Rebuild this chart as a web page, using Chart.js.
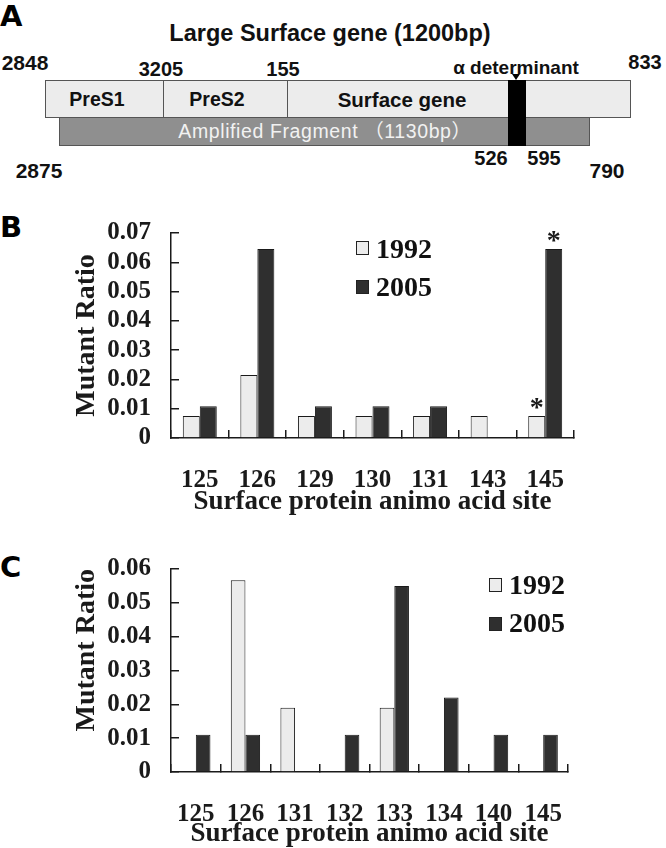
<!DOCTYPE html>
<html lang="en">
<head>
<meta charset="UTF-8">
<title>Surface gene mutant ratio</title>
<script src="https://cdn.jsdelivr.net/npm/chart.js"></script>
<style>
    body { margin: 0; background: #fff; }
    #fig { position: relative; width: 666px; height: 848px; overflow: hidden; }
    .t { position: absolute; transform: translate(-50%, -50%); white-space: nowrap; line-height: 1;
         font-family: "Liberation Sans", Arial, sans-serif; font-weight: bold; color: #111; }
    .tl { position: absolute; transform: translate(0, -50%); white-space: nowrap; line-height: 1; }
    .box { position: absolute; box-sizing: border-box; }
    .panel { position: absolute; left: 0; font-family: "DejaVu Sans", sans-serif; font-weight: bold; font-size: 29px; line-height: 1; color: #000; }
    .leg { font-family: "Liberation Serif", "Times New Roman", serif; font-weight: bold; font-size: 28px; color: #111; }
    .sw { position: absolute; width: 13px; height: 14px; box-sizing: border-box; border: 1px solid #222; }
    canvas { position: absolute; left: 0; }
</style>
</head>
<body>
<div id="fig">
    <!-- panel A: gene map -->
    <div class="panel" style="top:2px">A</div>
    <div class="t" style="left:330px;top:34px;font-size:23.5px">Large Surface gene (1200bp)</div>
    <div class="t" style="left:25px;top:62px;font-size:21px">2848</div>
    <div class="t" style="left:161px;top:69px;font-size:20px">3205</div>
    <div class="t" style="left:283px;top:69px;font-size:20px">155</div>
    <div class="t" style="left:516px;top:67px;font-size:19px">α determinant</div>
    <div class="t" style="left:645px;top:62px;font-size:20px">833</div>

    <div class="box" style="left:45px;top:80px;width:586px;height:38px;background:#ececec;border:1px solid #555"></div>
    <div class="box" style="left:163px;top:80px;width:1px;height:38px;background:#555"></div>
    <div class="box" style="left:287px;top:80px;width:1px;height:38px;background:#555"></div>
    <div class="box" style="left:59px;top:117px;width:531px;height:29px;background:#8f8f8f;border:1px solid #555"></div>
    <div class="box" style="left:508px;top:80px;width:18px;height:66px;background:#000"></div>
    <div class="box" style="left:512px;top:74px;width:0;height:0;border-left:4px solid transparent;border-right:4px solid transparent;border-top:6px solid #000"></div>

    <div class="t" style="left:97px;top:100px;font-size:19.5px">PreS1</div>
    <div class="t" style="left:217px;top:100px;font-size:19.5px">PreS2</div>
    <div class="t" style="left:402px;top:100px;font-size:20.5px">Surface gene</div>
    <div class="t" style="left:325px;top:132px;font-size:19.5px;font-weight:normal;color:#f2f2f2;letter-spacing:0.6px;font-family:'Liberation Sans','Noto Sans CJK SC',sans-serif">Amplified Fragment （1130bp）</div>

    <div class="t" style="left:39px;top:170px;font-size:21px">2875</div>
    <div class="t" style="left:491px;top:158px;font-size:20px">526</div>
    <div class="t" style="left:544px;top:158px;font-size:20px">595</div>
    <div class="t" style="left:607px;top:170px;font-size:21px">790</div>

    <!-- panel B -->
    <div class="panel" style="top:213px">B</div>
    <canvas id="chartB" width="666" height="330" style="top:190px"></canvas>
    <div class="sw" style="left:356px;top:241px;background:#ececec"></div>
    <div class="tl leg" style="left:376px;top:249px">1992</div>
    <div class="sw" style="left:356px;top:280px;background:#2f2f2f"></div>
    <div class="tl leg" style="left:376px;top:287px">2005</div>

    <!-- panel C -->
    <div class="panel" style="top:553px">C</div>
    <canvas id="chartC" width="666" height="328" style="top:522px"></canvas>
    <div class="sw" style="left:489px;top:578px;background:#ececec"></div>
    <div class="tl leg" style="left:509px;top:585px">1992</div>
    <div class="sw" style="left:489px;top:617px;background:#2f2f2f"></div>
    <div class="tl leg" style="left:509px;top:623px">2005</div>
</div>

<script>
// Panel B data
const sitesB = ['125', '126', '129', '130', '131', '143', '145'];
const ratioB1992 = [0.0075, 0.0215, 0.0075, 0.0075, 0.0075, 0.0075, 0.0075];
const ratioB2005 = [0.0108, 0.0645, 0.0108, 0.0108, 0.0108, 0, 0.0645];
const starsB = [[0, 6], [1, 6]];   // [dataset, index] marked with *
const maxB = 0.07;

// Panel C data
const sitesC = ['125', '126', '131', '132', '133', '134', '140', '145'];
const ratioC1992 = [0, 0.0567, 0.019, 0, 0.019, 0, 0, 0];
const ratioC2005 = [0.011, 0.011, 0, 0.011, 0.055, 0.022, 0.011, 0.011];
const maxC = 0.06;

const LIGHT = '#ececec';
const DARK = '#2f2f2f';
const INK = '#1a1a1a';
const serif = '"Liberation Serif", "Times New Roman", serif';

// draws the significance stars above chosen bars
const starPlugin = {
    id: 'stars',
    afterDatasetsDraw(chart, args, opts) {
        const ctx = chart.ctx;
        ctx.save();
        ctx.font = 'bold 28px ' + serif;
        ctx.fillStyle = INK;
        ctx.textAlign = 'center';
        ctx.textBaseline = 'alphabetic';
        (opts.marks || []).forEach(([ds, i]) => {
            const el = chart.getDatasetMeta(ds).data[i];
            ctx.fillText('*', el.x, el.y);
        });
        ctx.restore();
    }
};

function buildChart(id, labels, s1992, s2005, yMax, pad, xHeight, yTitleAlign, stars) {
    const axisLine = { color: INK, width: 1.5 };
    const innerTicks = { drawOnChartArea: false, tickLength: -8, color: INK, lineWidth: 1.5 };
    return new Chart(document.getElementById(id), {
        type: 'bar',
        data: {
            labels: labels,
            datasets: [
                { label: '1992', data: s1992, backgroundColor: LIGHT, borderColor: INK, borderWidth: 1,
                  categoryPercentage: 0.59, barPercentage: 1 },
                { label: '2005', data: s2005, backgroundColor: DARK, borderColor: INK, borderWidth: 1,
                  categoryPercentage: 0.59, barPercentage: 1 }
            ]
        },
        options: {
            responsive: false,
            animation: false,
            devicePixelRatio: 1,
            layout: { padding: pad },
            plugins: {
                legend: { display: false },
                tooltip: { enabled: false },
                stars: { marks: stars }
            },
            scales: {
                x: {
                    grid: Object.assign({ offset: true }, innerTicks),
                    border: axisLine,
                    ticks: { font: { family: serif, size: 25, weight: 'bold' }, color: INK, padding: 36,
                             maxRotation: 0, autoSkip: false },
                    title: { display: true, text: 'Surface protein animo acid site', color: INK, padding: 0,
                             font: { family: serif, size: 27, weight: 'bold' } },
                    afterFit: s => { s.height = xHeight; }
                },
                y: {
                    min: 0,
                    max: yMax,
                    grid: innerTicks,
                    border: axisLine,
                    ticks: { stepSize: 0.01, padding: 28, color: INK, autoSkip: false,
                             font: { family: serif, size: 25, weight: 'bold' },
                             callback: v => v === 0 ? '0' : v.toFixed(2) },
                    title: { display: true, text: 'Mutant Ratio', color: INK, align: yTitleAlign,
                             padding: { top: 70, bottom: 0 },
                             font: { family: serif, size: 28, weight: 'bold' } },
                    afterFit: s => { s.width = 171; }
                }
            }
        },
        plugins: [starPlugin]
    });
}

buildChart('chartB', sitesB, ratioB1992, ratioB2005, maxB,
    { top: 43, right: 92, bottom: 2, left: 0 }, 80, 'center', starsB);
buildChart('chartC', sitesC, ratioC1992, ratioC2005, maxC,
    { top: 47, right: 98, bottom: 0, left: 0 }, 78, 'end', []);
</script>
</body>
</html>
